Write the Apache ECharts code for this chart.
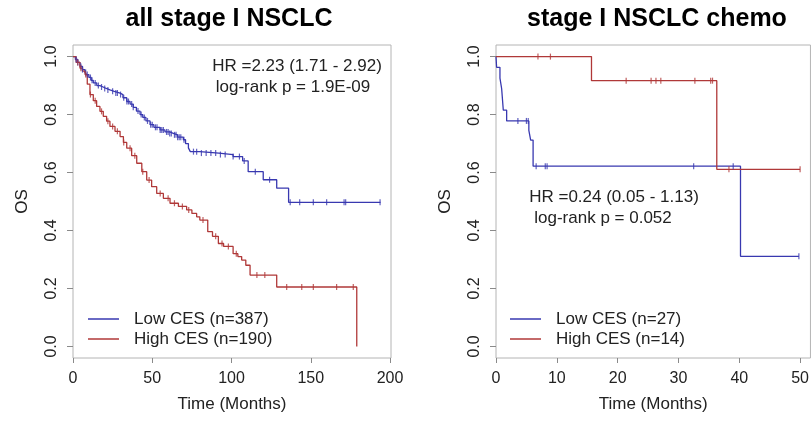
<!DOCTYPE html>
<html>
<head>
<meta charset="utf-8">
<script src="https://cdn.jsdelivr.net/npm/echarts@6/dist/echarts.min.js"></script>
<style>
  html, body { margin: 0; padding: 0; background: #fff; }
  #chart { width: 812px; height: 421px; }
</style>
</head>
<body>
<div id="chart"></div>
<script>
// Kaplan-Meier overall survival, stage I NSCLC, split by CES score

// --- all stage I NSCLC ---
const lowAllTime = [0, 1.5, 3, 4.4, 6, 7.5, 8.6, 10, 11.5, 12.8, 15, 17, 19, 21, 23.3, 26, 29.7, 31.5, 33.9, 36, 38, 40, 42.3, 44, 46, 48.6, 51, 54.9, 58, 61, 63.3, 66, 69.6, 71, 72.8, 74, 80, 92, 101, 107, 110.5, 120, 128.5, 136, 194];
const lowAllSurv = [1.0, 0.99, 0.98, 0.966, 0.955, 0.945, 0.938, 0.928, 0.918, 0.909, 0.9, 0.895, 0.89, 0.885, 0.88, 0.874, 0.869, 0.858, 0.845, 0.836, 0.825, 0.812, 0.80, 0.79, 0.778, 0.765, 0.756, 0.747, 0.74, 0.735, 0.73, 0.722, 0.713, 0.70, 0.685, 0.672, 0.667, 0.662, 0.655, 0.64, 0.603, 0.575, 0.546, 0.497, 0.497];
const lowAllCensor = [2, 3, 5, 6, 8, 9, 11, 12, 14, 16, 18, 20, 22, 25, 27, 28, 30, 32, 34, 35, 37, 38, 41, 43, 45, 47, 49, 50, 52, 53, 55, 56, 57, 59, 60, 61, 62, 64, 65, 66, 67, 68, 70, 76, 78, 81, 84, 87, 90, 93, 96, 101, 105, 108, 115, 124, 137, 143, 151.6, 160, 171, 172, 193.7];

const highAllTime = [0, 2, 4.4, 6, 7.6, 9, 10.7, 12.8, 14.9, 17, 19.1, 21.2, 23.3, 26.5, 29.7, 31.8, 33.9, 37, 40.2, 43.4, 46.5, 49.6, 52.8, 57, 61.2, 66.5, 71.7, 75, 78, 80, 85, 88, 91.7, 95, 101, 104, 106.4, 109, 111.7, 128.5, 179];
const highAllSurv = [1.0, 0.98, 0.96, 0.95, 0.938, 0.905, 0.869, 0.848, 0.828, 0.811, 0.794, 0.777, 0.759, 0.742, 0.724, 0.704, 0.684, 0.658, 0.632, 0.603, 0.574, 0.551, 0.528, 0.511, 0.494, 0.483, 0.471, 0.459, 0.447, 0.436, 0.396, 0.38, 0.355, 0.345, 0.32, 0.31, 0.298, 0.28, 0.246, 0.205, 0.0];
const highAllCensor = [3, 5, 8, 11, 14, 18, 22, 25, 28, 32, 36, 39, 44, 48, 55, 60, 64, 69, 73, 82, 90, 94, 98, 103, 116, 121, 134.8, 144.3, 151.6, 166.3, 176.8];

// --- stage I NSCLC treated with chemotherapy ---
const lowChemoTime = [0, 0.1, 0.65, 0.93, 1.2, 1.75, 5.4, 5.7, 6.1, 40.2, 49.8];
const lowChemoSurv = [1.0, 0.963, 0.926, 0.889, 0.815, 0.778, 0.745, 0.712, 0.622, 0.311, 0.311];
const lowChemoCensor = [3.6, 5.0, 5.3, 6.6, 8.1, 8.4, 32.5, 39, 49.8];

const highChemoTime = [0, 15.7, 36.3, 50];
const highChemoSurv = [1.0, 0.917, 0.611, 0.611];
const highChemoCensor = [6.9, 8.95, 21.4, 25.5, 26.3, 27.1, 32.7, 35.3, 35.6, 38.3, 50];

const names = {
  lowAll: 'Low CES (n=387)', highAll: 'High CES (n=190)',
  lowChemo: 'Low CES (n=27)', highChemo: 'High CES (n=14)'
};
const titles = ['all stage I NSCLC', 'stage I NSCLC chemo'];
const statsAll = ['HR =2.23 (1.71 - 2.92)', 'log-rank p = 1.9E-09'];
const statsChemo = ['HR =0.24 (0.05 - 1.13)', 'log-rank p = 0.052'];
const yTicks = [0, 0.2, 0.4, 0.6, 0.8, 1.0];
const xTicksAll = [0, 50, 100, 150, 200];
const xTicksChemo = [0, 10, 20, 30, 40, 50];

const BLUE = '#3838b0';
const RED = '#b03838';
const FONT = '"Liberation Sans", Arial, Helvetica, sans-serif';
const TEXT = '#222';

function pairs(times, surv) {
  return times.map((t, i) => [t, surv[i]]);
}
// survival value of a step curve at time t
function survAt(times, surv, t) {
  let s = surv[0];
  for (let i = 0; i < times.length; i++) {
    if (times[i] <= t) s = surv[i];
  }
  return s;
}
function censorPoints(times, surv, cens) {
  return cens.map(t => [t, survAt(times, surv, t)]);
}

function curve(name, idx, times, surv, color) {
  return {
    type: 'line', name: name, step: 'end',
    xAxisIndex: idx, yAxisIndex: idx,
    data: pairs(times, surv),
    showSymbol: false, symbol: 'none',
    lineStyle: { color: color, width: 1.3 },
    itemStyle: { color: color },
    z: 3
  };
}
function ticks(name, idx, times, surv, cens, color) {
  return {
    type: 'scatter', name: name + ' censored',
    xAxisIndex: idx, yAxisIndex: idx,
    data: censorPoints(times, surv, cens),
    symbol: 'rect', symbolSize: [1.2, 6],
    itemStyle: { color: color },
    z: 4
  };
}

function xAxis(idx, max, tickVals) {
  return {
    type: 'value', gridIndex: idx, min: 0, max: max,
    name: 'Time (Months)', nameLocation: 'middle', nameGap: 38,
    nameTextStyle: { fontSize: 17, color: TEXT, fontFamily: FONT },
    axisLine: { show: false, onZero: false },
    splitLine: { show: false },
    axisTick: { show: true, customValues: tickVals, length: 5, lineStyle: { color: '#8a8a8a' } },
    axisLabel: { customValues: tickVals, margin: 13, fontSize: 16, color: TEXT, fontFamily: FONT }
  };
}
function yAxis(idx) {
  return {
    type: 'value', gridIndex: idx, min: -0.04, max: 1.04,
    name: 'OS', nameLocation: 'middle', nameGap: 42,
    nameTextStyle: { fontSize: 17, color: TEXT, fontFamily: FONT },
    axisLine: { show: false, onZero: false },
    splitLine: { show: false },
    axisTick: { show: true, customValues: yTicks, length: 6, lineStyle: { color: '#8a8a8a' } },
    axisLabel: {
      customValues: yTicks, rotate: 90, margin: 13, fontSize: 16, color: TEXT, fontFamily: FONT,
      formatter: v => v.toFixed(1)
    }
  };
}

function legend(left, data) {
  return {
    data: data, left: left, top: 305, orient: 'vertical',
    icon: 'rect', itemWidth: 31, itemHeight: 1.5, itemGap: 2,
    selectedMode: false,
    textStyle: { fontSize: 17, color: TEXT, fontFamily: FONT, padding: [0, 0, 0, 10], lineHeight: 18 }
  };
}

function label(x, y, text, size, weight, color) {
  return {
    type: 'text', x: x, y: y, silent: true,
    style: {
      text: text, align: 'center', verticalAlign: 'middle',
      fontSize: size, fontWeight: weight, fill: color, fontFamily: FONT
    }
  };
}

const chart = echarts.init(document.getElementById('chart'), null, { renderer: 'canvas' });
chart.setOption({
  animation: false,
  backgroundColor: '#fff',
  grid: [
    { left: 73, top: 45, width: 318, height: 313, show: true, borderColor: '#b4b4b4', borderWidth: 1, backgroundColor: 'transparent' },
    { left: 496, top: 45, width: 316, height: 313, show: true, borderColor: '#b4b4b4', borderWidth: 1, backgroundColor: 'transparent' }
  ],
  xAxis: [xAxis(0, 200.6, xTicksAll), xAxis(1, 51.7, xTicksChemo)],
  yAxis: [yAxis(0), yAxis(1)],
  legend: [
    legend(83, [names.lowAll, names.highAll]),
    legend(505, [names.lowChemo, names.highChemo])
  ],
  series: [
    curve(names.lowAll, 0, lowAllTime, lowAllSurv, BLUE),
    curve(names.highAll, 0, highAllTime, highAllSurv, RED),
    ticks(names.lowAll, 0, lowAllTime, lowAllSurv, lowAllCensor, BLUE),
    ticks(names.highAll, 0, highAllTime, highAllSurv, highAllCensor, RED),
    curve(names.lowChemo, 1, lowChemoTime, lowChemoSurv, BLUE),
    curve(names.highChemo, 1, highChemoTime, highChemoSurv, RED),
    ticks(names.lowChemo, 1, lowChemoTime, lowChemoSurv, lowChemoCensor, BLUE),
    ticks(names.highChemo, 1, highChemoTime, highChemoSurv, highChemoCensor, RED)
  ],
  graphic: [
    label(229, 19, titles[0], 25, 'bold', '#000'),
    label(657, 19, titles[1], 25, 'bold', '#000'),
    label(297, 66, statsAll[0], 17, 'normal', TEXT),
    label(293, 87, statsAll[1], 17, 'normal', TEXT),
    label(614, 197, statsChemo[0], 17, 'normal', TEXT),
    label(603, 218, statsChemo[1], 17, 'normal', TEXT)
  ]
});
</script>
</body>
</html>
